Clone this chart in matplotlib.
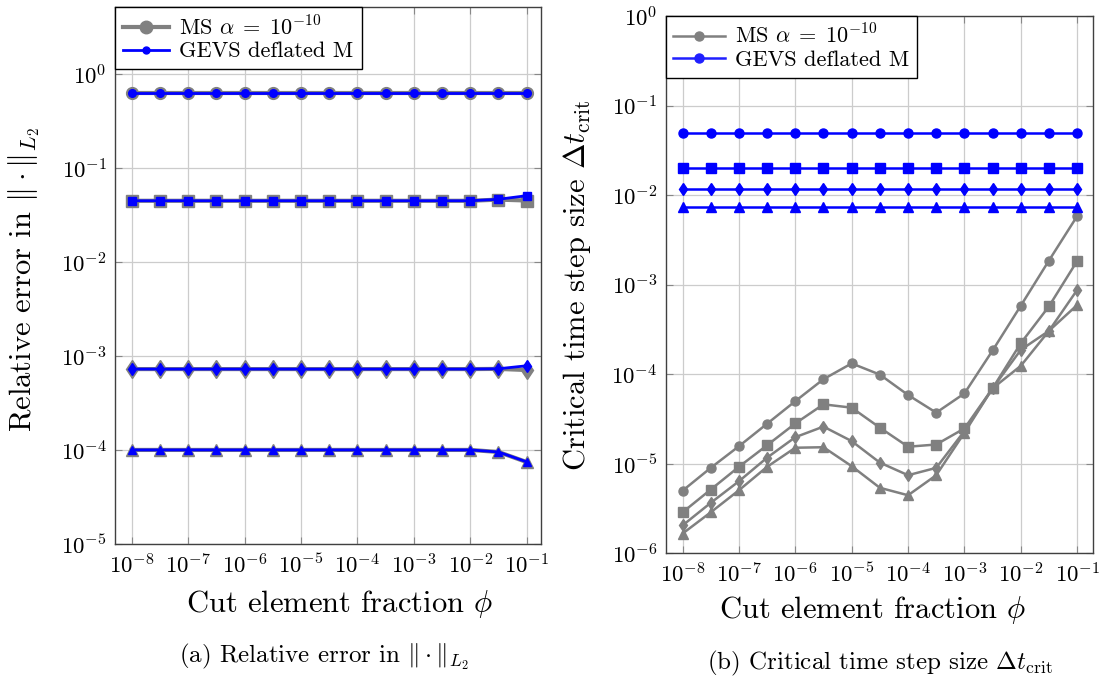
import numpy as np
import matplotlib
matplotlib.use("Agg")
import matplotlib.pyplot as plt
from matplotlib.lines import Line2D

plt.rcParams['font.family'] = 'serif'
plt.rcParams['font.serif'] = ['cmr10']
plt.rcParams['mathtext.fontset'] = 'cm'
plt.rcParams['axes.formatter.use_mathtext'] = True
plt.rcParams['axes.unicode_minus'] = False

# cut element fraction (half decades)
phi = [1e-8, 3.16e-8, 1e-7, 3.16e-7, 1e-6, 3.16e-6, 1e-5, 3.16e-5,
       1e-4, 3.16e-4, 1e-3, 3.16e-3, 1e-2, 3.16e-2, 1e-1]

# (a) relative error, MS alpha=1e-10 (gray) and GEVS deflated M (blue)
err_ms_circ = [0.637] * 15
err_ms_sq = [0.0452] * 13 + [0.0465, 0.0455]
err_ms_dia = [7.32e-4] * 13 + [7.35e-4, 7.15e-4]
err_ms_tri = [1.01e-4] * 13 + [9.6e-5, 7.5e-5]
err_gv_circ = [0.637] * 15
err_gv_sq = [0.0452] * 13 + [0.0469, 0.0512]
err_gv_dia = [7.32e-4] * 13 + [7.38e-4, 7.94e-4]
err_gv_tri = [1.01e-4] * 13 + [9.6e-5, 7.53e-5]

# (b) critical time step size
dt_ms_circ = [5.0e-6, 9.0e-6, 1.57e-5, 2.8e-5, 5.0e-5, 8.8e-5, 1.32e-4, 9.9e-5,
              5.86e-5, 3.72e-5, 6.1e-5, 1.84e-4, 5.82e-4, 1.86e-3, 5.83e-3]
dt_ms_sq = [2.87e-6, 5.15e-6, 9.25e-6, 1.61e-5, 2.82e-5, 4.61e-5, 4.23e-5, 2.53e-5,
            1.55e-5, 1.64e-5, 2.48e-5, 6.96e-5, 2.22e-4, 5.73e-4, 1.84e-3]
dt_ms_dia = [2.05e-6, 3.66e-6, 6.38e-6, 1.17e-5, 1.98e-5, 2.6e-5, 1.79e-5, 1.03e-5,
             7.45e-6, 9.0e-6, 2.32e-5, 6.96e-5, 1.87e-4, 3.05e-4, 8.73e-4]
dt_ms_tri = [1.66e-6, 2.87e-6, 5.06e-6, 9.25e-6, 1.51e-5, 1.53e-5, 9.4e-6, 5.39e-6,
             4.45e-6, 7.45e-6, 2.22e-5, 6.96e-5, 1.24e-4, 3.05e-4, 5.93e-4]
dt_gv_circ = [0.0494] * 15
dt_gv_sq = [0.0200] * 15
dt_gv_dia = [0.0117] * 15
dt_gv_tri = [0.0074] * 15

gray = '#808080'
blue = '#0000ff'
markers = ['o', 's', 'd', '^']

fig = plt.figure(figsize=(11.05, 6.81), dpi=100)
ax1 = fig.add_axes([0.1041, 0.2007, 0.3855, 0.7885])
ax2 = fig.add_axes([0.6024, 0.1875, 0.3867, 0.789])

ms_a = [err_ms_circ, err_ms_sq, err_ms_dia, err_ms_tri]
gv_a = [err_gv_circ, err_gv_sq, err_gv_dia, err_gv_tri]
for m, ys in zip(markers, ms_a):
    ms = 8.5 if m != 'd' else 9.5
    ax1.plot(phi, ys, color=gray, lw=3, marker=m, ms=ms, zorder=3)
for m, ys in zip(markers, gv_a):
    ms = 5.5 if m != 'd' else 6
    ax1.plot(phi, ys, color=blue, lw=2, marker=m, ms=ms, zorder=4)

ms_b = [dt_ms_circ, dt_ms_sq, dt_ms_dia, dt_ms_tri]
gv_b = [dt_gv_circ, dt_gv_sq, dt_gv_dia, dt_gv_tri]
for m, ys in zip(markers, ms_b):
    ax2.plot(phi, ys, color=gray, lw=1.8, marker=m, ms=6.5, zorder=3)
for m, ys in zip(markers, gv_b):
    ax2.plot(phi, ys, color=blue, lw=1.8, marker=m, ms=6.5, zorder=4)

for ax in (ax1, ax2):
    ax.set_xscale('log')
    ax.set_yscale('log')
    ax.set_xticks([10.0**k for k in range(-8, 0)])
    ax.minorticks_off()
    ax.grid(True, color='#cccccc', lw=0.9)
    ax.set_axisbelow(True)
    ax.tick_params(direction='in', top=True, right=True, length=5,
                   color='#888888', labelsize=16.5, pad=6)
    for s in ax.spines.values():
        s.set_color('#404040')
        s.set_linewidth(1.0)

ax1.set_xlim(10**-8.296, 10**-0.747)
ax1.set_ylim(1e-5, 10**0.713)
ax1.set_yticks([10.0**k for k in range(-5, 1)])
ax1.minorticks_off()
ax2.set_xlim(10**-8.30, 10**-0.72)
ax2.set_ylim(1e-6, 1)
ax2.set_yticks([10.0**k for k in range(-6, 1)])
ax2.minorticks_off()

labels = [r'MS $\alpha\;=\;10^{-10}$', 'GEVS deflated M']

h1 = [Line2D([], [], color=gray, lw=3, marker='o', ms=9),
      Line2D([], [], color=blue, lw=2, marker='o', ms=5)]
leg1 = ax1.legend(h1, labels,
                  loc='upper left', bbox_to_anchor=(0, 1), borderaxespad=0,
                  fancybox=False, framealpha=1, edgecolor='black',
                  fontsize=16, handlelength=2.1, borderpad=0.35,
                  labelspacing=0.12, handletextpad=0.45)
leg1.get_frame().set_linewidth(1.0)

h2 = [Line2D([], [], color=gray, lw=1.8, marker='o', ms=6.5),
      Line2D([], [], color='#2020ff', lw=1.8, marker='o', ms=6.5)]
leg2 = ax2.legend(h2, labels,
                  loc='upper left', bbox_to_anchor=(0, 1), borderaxespad=0,
                  fancybox=False, framealpha=1, edgecolor='black',
                  fontsize=16, handlelength=2.3, borderpad=0.35,
                  labelspacing=0.12, handletextpad=0.45)
leg2.get_frame().set_linewidth(1.0)

fig.text(340 / 1105, 1 - 604 / 681, r'Cut element fraction $\phi$',
         ha='center', va='center', fontsize=22)
fig.text(873 / 1105, 1 - 610 / 681, r'Cut element fraction $\phi$',
         ha='center', va='center', fontsize=22)
fig.text(24 / 1105, 1 - 280 / 681, r'Relative error in $\|\cdot\|_{L_2}$',
         ha='center', va='center', rotation=90, fontsize=22)
fig.text(577 / 1105, 1 - 285 / 681, r'Critical time step size $\Delta t_{\mathrm{crit}}$',
         ha='center', va='center', rotation=90, fontsize=22)
fig.text(324 / 1105, 1 - 657 / 681, r'(a) Relative error in $\|\cdot\|_{L_2}$',
         ha='center', va='center', fontsize=18)
fig.text(880 / 1105, 1 - 663 / 681, r'(b) Critical time step size $\Delta t_{\mathrm{crit}}$',
         ha='center', va='center', fontsize=18)

fig.savefig('out.png', dpi=100)
